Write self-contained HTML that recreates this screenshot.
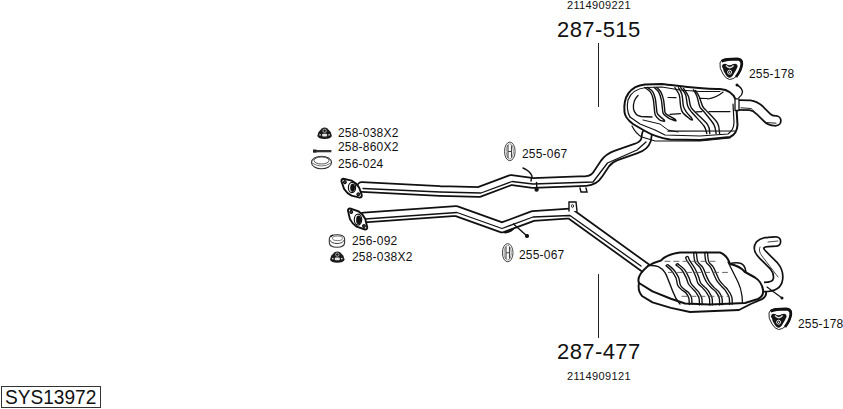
<!DOCTYPE html>
<html><head><meta charset="utf-8">
<style>
html,body{margin:0;padding:0;background:#fff;}
body{width:843px;height:409px;position:relative;overflow:hidden;font-family:"Liberation Sans",sans-serif;color:#111;}
.t{position:absolute;white-space:nowrap;line-height:1;}
.s12{font-size:12px;letter-spacing:0.2px;}
.s11{font-size:11px;letter-spacing:0.35px;}
.s22{font-size:22px;letter-spacing:0.4px;}
#box{position:absolute;left:1px;top:386px;width:98px;height:20px;border:1px solid #333;}
#box span{position:absolute;left:3px;top:0px;font-size:20px;line-height:1;transform:scaleX(0.955);transform-origin:0 0;}
svg{position:absolute;left:0;top:0;}
</style></head><body>
<svg width="843" height="409" viewBox="0 0 843 409">
<g fill="none" stroke-linecap="round" stroke-linejoin="round">
<!-- upper pipe -->
<path d="M362 187 L440 191 L479 192 L511 180 L533 183 L586 181 Q594 180.5 598 174 L605 163.5 Q609 158 616 155.5 L636 148.5 Q644 146 646 140 L647 134" stroke="#111" stroke-width="11.5"/>
<path d="M362 187 L440 191 L479 192 L511 180 L533 183 L586 181 Q594 180.5 598 174 L605 163.5 Q609 158 616 155.5 L636 148.5 Q644 146 646 140 L647 134" stroke="#fff" stroke-width="8"/>
<path d="M363 188.5 L440 192 L481 193 L512 181.5 L533 184 L593 182 L607.5 163 L637 150 L646 142" stroke="#111" stroke-width="1.3"/>
<!-- lower pipe -->
<path d="M364 217.5 L456 211 L502 227.5 L533 216 L570 213.5 L649 270.5" stroke="#111" stroke-width="11.5"/>
<path d="M364 217.5 L456 211 L502 227.5 L533 216 L570 213.5 L649 270.5" stroke="#fff" stroke-width="8"/>
<path d="M365 219 L457 212.5 L502 228.5 L533 217 L570 215.5 L641 266" stroke="#111" stroke-width="1.3"/>
</g>

<!-- upper muffler -->
<g fill="none" stroke="#111" stroke-linecap="round" stroke-linejoin="round">
<path d="M624.5 112 C623 97 630 86 645 84.5 L662 84 C680 86 700 89.5 720 89 Q732 90 736 100 L737.5 125 Q737 134 730 137 L700 140 L670 139.5 Q655 137 645 131 L633 124 Q625 118 624.5 112 Z" fill="#fff" stroke-width="2"/>
<path d="M630 117 Q626 110 628 100 Q632 89 646 87.5 L662 87 L680 90 L700 91.5 L720 91.5" stroke-width="1.2"/>
<path d="M630 117 L640 124 L655 130 L665 135 L700 136 L728 134 Q734 130 734 122 L733 104" stroke-width="1.2"/>
<path d="M632 126 Q636 134 642 137 L655 141 L700 141 L730 138" stroke-width="1.2"/>
<path d="M638 95.5 Q632.5 101 633.5 109 Q635 115.5 641 116.5 L652 117" stroke-width="1.3"/>
<path d="M643 120 L660 124 L668 130 L678 132" stroke-width="1"/>
<path d="M644.8 87.5 C645.7 88.2 648.9 90.1 650.3 91.9 C651.7 93.7 652.5 95.9 653.1 98.5 C653.8 101.1 653.8 104.5 654.2 107.3 C654.6 110.0 654.4 112.9 655.3 115.0 C656.2 117.1 658.4 119.0 659.7 120.0 C661.0 121.0 662.5 120.8 663.0 121.0 M647.6 87.5 C648.4 88.2 651.2 89.6 652.5 91.4 C653.8 93.2 654.6 95.8 655.3 98.5 C655.9 101.2 656.0 104.7 656.4 107.3 C656.8 109.9 656.4 112.0 657.5 113.9 C658.6 115.8 661.9 117.9 663.0 118.9 C664.1 119.9 664.0 119.8 664.2 120.0 M663.0 121.0 Q665.4 121.8 664.2 120.0 M654.2 87.5 C654.9 88.2 657.4 89.9 658.6 91.9 C659.8 93.9 660.7 96.8 661.3 99.6 C661.9 102.3 662.0 106.0 662.4 108.4 C662.8 110.8 662.4 112.2 663.5 113.9 C664.6 115.6 667.2 117.2 669.0 118.3 C670.8 119.4 673.6 120.1 674.5 120.5 M656.9 87.5 C657.5 88.2 659.7 89.9 660.8 91.9 C661.9 93.9 662.9 96.8 663.5 99.6 C664.1 102.3 664.2 106.1 664.6 108.4 C665.0 110.7 664.1 111.7 665.7 113.4 C667.4 115.2 672.9 117.8 674.5 118.9 C676.1 120.0 675.4 119.8 675.6 120.0 M674.5 120.5 Q676.8 121.3 675.6 120.0 M674.9 87.7 C675.6 88.9 678.2 91.7 679.2 94.8 C680.2 97.9 680.0 103.1 680.6 106.1 C681.2 109.0 681.2 110.4 682.7 112.5 C684.2 114.6 688.4 117.7 689.8 118.9 C691.2 120.1 690.8 119.6 691.0 119.7 M678.5 87.7 C679.1 88.9 681.2 91.7 682.0 94.8 C682.8 97.9 682.7 103.3 683.4 106.1 C684.1 108.9 685.0 109.9 686.3 111.8 C687.6 113.7 690.2 116.3 691.2 117.5 C692.2 118.7 691.9 118.8 692.0 119.0 M691.0 119.7 Q693.2 120.5 692.0 119.0 M680.6 87.7 C681.4 88.9 684.4 91.7 685.6 94.8 C686.8 97.9 686.6 103.1 687.7 106.1 C688.8 109.0 689.3 109.2 692.0 112.5 C694.7 115.8 701.5 122.5 704.0 126.0 C706.5 129.5 706.3 132.2 706.8 133.5 M683.4 88.4 C684.2 89.7 687.2 93.2 688.4 96.2 C689.6 99.2 689.5 103.6 690.5 106.1 C691.5 108.6 691.2 108.0 694.1 111.1 C697.0 114.2 705.0 120.9 707.6 124.6 C710.2 128.3 709.4 132.0 709.8 133.5 M693.4 89.8 C694.0 90.9 695.8 93.4 696.9 96.2 C698.0 99.0 698.6 104.2 699.8 106.8 C701.0 109.4 701.6 108.8 704.0 111.8 C706.4 114.8 711.9 121.0 713.9 124.6 C715.9 128.2 715.7 132.0 716.1 133.5 M695.5 90.5 C696.1 91.5 697.8 93.6 699.0 96.2 C700.2 98.8 701.4 103.7 702.6 106.1 C703.8 108.5 703.6 107.6 706.1 110.4 C708.6 113.2 715.2 119.2 717.5 123.1 C719.8 126.9 719.2 131.8 719.6 133.5" stroke-width="1.4"/>
<path d="M707.6 99 Q716 98 723.2 92" stroke-width="1.1"/>
<path d="M668 97.5 L676 97.7 M699.5 98.3 L707.5 98.5 M709 111.6 L730 111.6 M670 114.3 L680.5 113.6 M696 111.8 L702 111.6 M668 131.2 L735 131" stroke-width="1.2"/>
</g>
<!-- upper outlet pipe -->
<g fill="none" stroke-linecap="round" stroke-linejoin="round">
<path d="M738 105 L750 105.3 Q755 105.8 760 110.5 L767 117.5 Q770 120.7 775 120.8 L776 120.8" stroke="#111" stroke-width="11.5" stroke-linecap="butt"/>
<circle cx="776" cy="120.8" r="5.75" fill="#111"/>
<path d="M738 105 L750 105.3 Q755 105.8 760 110.5 L767 117.5 Q770 120.7 775 120.8 L776 120.8" stroke="#fff" stroke-width="8" stroke-linecap="butt"/>
<circle cx="776" cy="120.8" r="4" fill="#fff"/>
<path d="M741 107.8 L751 108.5 L766 122.5 L776 123.2" stroke="#222" stroke-width="1"/>
<path d="M735 98.8 L739 98.8 L739 110.5 L735 110.5 Z" fill="#fff" stroke="#111" stroke-width="1.3"/>
<path d="M737.4 85.2 Q742 88 742.5 92 Q742 95.5 739 97.5" stroke="#111" stroke-width="1.4"/>
<circle cx="737" cy="85" r="1.5" fill="#111"/>
</g>

<!-- lower muffler -->
<g fill="none" stroke="#111" stroke-linecap="round" stroke-linejoin="round">
<path d="M729 264 Q736 262 741 263.5 Q745 265 746 272" fill="#fff" stroke-width="1.5"/>
<path d="M648 266 Q655 262 661 260.5 Q667 254 680 252.5 L720 252.5 Q727 255 730 264 Q740 266 745 272 L755 277.5 Q762 282 763 290 Q764 296 758 299 L745 303 L710 304.5 L685 303.5 L670.9 298.7 L652.5 291.4 L639 283 Q636 276 648 266 Z" fill="#fff" stroke-width="2"/>
<path d="M639 283 Q637.5 291 642 296 L652.5 302.4 L670.9 307.9 L690 312 L739 310 L750.7 304 L762 299.2 Q767 296 766 292" stroke-width="1.9"/>
<path d="M648 265.6 Q654 265 658.3 266.7 Q662.5 268.8 665 272.6 Q666.5 275 667.3 277.5 L669.5 283 L672.8 291.5 Q675.5 299 680 304" stroke-width="1.4"/>
<path d="M666.1 265.7 C667.0 266.6 670.0 268.7 671.6 270.8 C673.2 272.9 675.0 275.7 676.0 278.1 C677.0 280.6 676.8 283.5 677.8 285.5 C678.8 287.5 680.5 288.6 681.9 289.9 C683.3 291.1 684.9 291.6 686.0 293.0 C687.1 294.4 688.2 296.1 688.8 298.0 C689.3 299.9 689.2 303.4 689.3 304.5 M668.8 265.4 C669.7 266.2 672.7 268.4 674.3 270.5 C676.0 272.6 677.7 275.4 678.7 277.8 C679.7 280.2 679.5 283.2 680.5 285.2 C681.5 287.2 683.2 288.3 684.6 289.6 C686.0 290.8 687.6 291.3 688.7 292.7 C689.9 294.1 691.0 295.8 691.5 297.7 C692.0 299.6 691.9 303.1 692.0 304.2 M666.1 265.7 Q667.5 263.6 668.8 265.4 M676.0 264.9 C677.0 265.8 680.2 267.8 681.9 270.0 C683.6 272.2 685.2 275.8 686.3 278.1 C687.4 280.4 687.4 282.2 688.5 284.0 C689.6 285.8 691.6 287.7 692.9 289.1 C694.1 290.5 695.0 291.0 696.0 292.5 C697.0 294.0 698.4 295.9 699.0 298.0 C699.6 300.1 699.3 303.8 699.4 305.0 M678.7 264.6 C679.7 265.4 682.9 267.5 684.6 269.7 C686.3 271.9 687.9 275.5 689.0 277.8 C690.1 280.1 690.1 281.9 691.2 283.7 C692.3 285.5 694.4 287.4 695.6 288.8 C696.9 290.2 697.7 290.7 698.7 292.2 C699.7 293.7 701.1 295.6 701.7 297.7 C702.3 299.8 702.0 303.5 702.1 304.7 M676.0 264.9 Q677.4 262.8 678.7 264.6 M685.7 257.5 C685.9 258.1 686.0 259.1 687.1 261.0 C688.2 262.9 690.7 266.0 692.1 268.6 C693.5 271.2 694.8 274.2 695.8 276.7 C696.8 279.1 696.8 281.4 698.0 283.3 C699.2 285.2 701.8 286.9 703.1 288.4 C704.5 289.8 705.1 290.4 706.1 292.0 C707.1 293.6 708.7 295.8 709.3 298.0 C709.9 300.2 709.6 303.8 709.7 305.0 M688.4 257.2 C688.6 257.8 688.7 258.8 689.8 260.7 C690.9 262.6 693.4 265.7 694.8 268.3 C696.2 270.9 697.5 273.9 698.5 276.4 C699.5 278.8 699.5 281.1 700.7 283.0 C701.9 284.9 704.5 286.6 705.8 288.1 C707.2 289.5 707.8 290.1 708.8 291.7 C709.8 293.3 711.4 295.5 712.0 297.7 C712.6 299.9 712.3 303.5 712.4 304.7 M685.7 257.5 Q687.1 255.4 688.4 257.2 M693.7 253.2 C693.9 254.7 694.0 259.6 695.1 262.0 C696.2 264.4 698.7 265.4 700.2 267.9 C701.7 270.3 702.8 274.3 703.9 276.7 C705.0 279.1 705.6 280.7 706.8 282.5 C708.0 284.3 709.7 286.1 711.2 287.7 C712.7 289.3 714.7 290.3 716.0 292.0 C717.3 293.7 718.6 295.8 719.2 298.0 C719.8 300.2 719.5 303.8 719.6 305.0 M696.4 252.9 C696.6 254.4 696.7 259.2 697.8 261.7 C698.9 264.1 701.4 265.1 702.9 267.6 C704.4 270.0 705.5 274.0 706.6 276.4 C707.7 278.8 708.3 280.4 709.5 282.2 C710.7 284.0 712.4 285.8 713.9 287.4 C715.4 289.0 717.4 290.0 718.7 291.7 C720.0 293.4 721.3 295.5 721.9 297.7 C722.5 299.9 722.2 303.5 722.3 304.7 M693.7 253.2 Q695.1 251.1 696.4 252.9 M704.8 253.2 C705.0 254.7 705.1 259.7 706.1 262.0 C707.1 264.3 709.1 264.9 710.5 267.1 C711.9 269.3 713.1 272.9 714.2 275.2 C715.3 277.5 715.9 279.3 717.1 281.1 C718.3 282.9 720.2 284.7 721.5 286.2 C722.8 287.7 723.8 288.2 725.0 290.0 C726.2 291.8 728.2 294.6 729.0 297.0 C729.8 299.4 729.4 303.2 729.5 304.5 M707.5 252.9 C707.7 254.4 707.9 259.4 708.8 261.7 C709.8 264.0 711.9 264.6 713.2 266.8 C714.6 269.0 715.8 272.6 716.9 274.9 C718.0 277.2 718.6 279.0 719.8 280.8 C721.0 282.6 722.9 284.4 724.2 285.9 C725.5 287.4 726.5 287.9 727.7 289.7 C729.0 291.5 731.0 294.3 731.7 296.7 C732.5 299.1 732.1 302.9 732.2 304.2 M704.8 253.2 Q706.1 251.1 707.5 252.9" stroke-width="1.35"/>
<path d="M728 262 Q733 272 738 282 Q741 288 742 296 L742.5 303" stroke-width="1.3"/>
<path d="M665 261.3 L716 261.3 M668.5 272.4 L728 272.4 M682 296.3 L728 296.3" stroke="#555" stroke-width="0.9" stroke-dasharray="5 4"/>
</g>
<!-- lower outlet pipe -->
<g fill="none" stroke-linecap="round" stroke-linejoin="round">
<path d="M764 287 Q777 287 778 279 Q779 272 774 266 L763 255 Q757 249 760 245 Q763 242 768 242 L776 241.5" stroke="#111" stroke-width="11" stroke-linecap="butt"/>
<circle cx="776" cy="241.5" r="5.5" fill="#111"/>
<path d="M764 287 Q777 287 778 279 Q779 272 774 266 L763 255 Q757 249 760 245 Q763 242 768 242 L776 241.5" stroke="#fff" stroke-width="7.6" stroke-linecap="butt"/>
<circle cx="776" cy="241.5" r="3.8" fill="#fff"/>
<path d="M760 247 Q758 251 762 256 L778 277 M768 242 L778 241" stroke="#333" stroke-width="0.9"/>
<path d="M767 287 L782 298" stroke="#111" stroke-width="1.2"/>
<circle cx="782" cy="298" r="1.5" fill="#111"/>
</g>
<!-- hanger wires on pipes -->
<g fill="none" stroke="#111" stroke-linecap="round" stroke-width="1.4">
<path d="M523 168 Q530 171 532 176 L531 181"/>
<path d="M536.5 182.5 L537 189.5"/>
<circle cx="536.6" cy="189.6" r="1.5" fill="#111"/>
<path d="M513.5 224 L527 236"/>
<path d="M505 232.5 Q510 232 513 229" stroke-width="2"/>
<circle cx="527" cy="236" r="1.4" fill="#111"/>
<path d="M580 188 L581 192 L587 192 L586 188"/>
<path d="M569 211 L569 202 L576 202 L577 211" fill="#fff"/>
<ellipse cx="572.5" cy="206" rx="1" ry="1.6" stroke-width="0.8"/>
</g>
<!-- upper flange -->
<g transform="translate(351.6 188.2) rotate(42)">
<path d="M-12.3 -1.6 Q-13.8 0 -12.3 1.6 L-5 5.6 Q0 7 5 5.6 L12.3 1.6 Q13.8 0 12.3 -1.6 L5 -5.6 Q0 -7 -5 -5.6 Z" fill="#fff" stroke="#111" stroke-width="1.9"/>
<circle cx="-9" cy="0" r="1.4" fill="#444" stroke="#111" stroke-width="1.1"/>
<circle cx="9" cy="0" r="1.4" fill="#444" stroke="#111" stroke-width="1.1"/>
</g>
<ellipse cx="352" cy="187.5" rx="3.6" ry="5.2" fill="#fff" stroke="#111" stroke-width="1.2"/>
<ellipse cx="352.6" cy="187.8" rx="2.4" ry="4.1" fill="#111"/>
<!-- lower flange -->
<g transform="translate(357.6 219) rotate(48)">
<path d="M-12.8 -1.5 Q-14.3 0 -12.8 1.5 L-5 5.8 Q0 7.2 5 5.8 L12.8 1.5 Q14.3 0 12.8 -1.5 L5 -5.8 Q0 -7.2 -5 -5.8 Z" fill="#fff" stroke="#111" stroke-width="1.9"/>
<circle cx="-9.5" cy="0" r="1.4" fill="#444" stroke="#111" stroke-width="1.1"/>
<circle cx="9.5" cy="0" r="1.4" fill="#444" stroke="#111" stroke-width="1.1"/>
</g>
<ellipse cx="358" cy="219.6" rx="3.7" ry="5.5" fill="#fff" stroke="#111" stroke-width="1.2"/>
<ellipse cx="358.6" cy="219.9" rx="2.5" ry="4.4" fill="#111"/>
<!-- icons -->
<g>
<!-- nut 1 -->
<g transform="translate(-12.7 -123.8)">
<path d="M330 259.8 L331.2 255.8 L334.5 252.2 Q337.3 250.6 340.1 252.2 L343.4 255.8 L344.6 259.8 Q343.5 262.7 337.3 262.7 Q331.1 262.7 330 259.8 Z" fill="#1a1a1a"/>
<circle cx="337.3" cy="254.6" r="1.7" fill="none" stroke="#bbb" stroke-width="0.9"/>
<rect x="334.8" y="257.6" width="5" height="2.6" rx="1" fill="#e6e6e6"/>
<circle cx="332.8" cy="258.6" r="0.9" fill="#ccc"/>
<circle cx="341.8" cy="258.6" r="0.9" fill="#ccc"/>
</g>
<!-- bolt -->
<rect x="313" y="149.5" width="3.5" height="3.2" fill="#222"/>
<rect x="316" y="150" width="15.4" height="2.3" fill="#333"/>
<!-- ring 256-024 -->
<ellipse cx="321.5" cy="162.5" rx="10" ry="6.3" fill="#fff" stroke="#333" stroke-width="1.1"/>
<ellipse cx="321.5" cy="160.5" rx="7.5" ry="3.5" fill="none" stroke="#555" stroke-width="1"/>
<path d="M312 163 Q321.5 169 331 163" fill="none" stroke="#666" stroke-width="0.9"/>
<!-- ring 256-092 -->
<path d="M329.3 239 Q329.3 234.8 337 234.8 Q344.6 234.8 344.6 239 L344.6 242.5 Q344.6 247.2 337 247.2 Q329.3 247.2 329.3 242.5 Z" fill="#fff" stroke="#333" stroke-width="1.1"/>
<path d="M329.5 239.5 Q331 243.5 337 243.5 Q343 243.5 344.4 239.5" fill="none" stroke="#444" stroke-width="1"/>
<ellipse cx="337.5" cy="238.3" rx="5" ry="2.3" fill="none" stroke="#666" stroke-width="0.9"/>
<path d="M330.5 237 Q331 235.5 333 235.3" fill="none" stroke="#111" stroke-width="1.6"/>
<!-- nut 2 -->
<path d="M330 259.8 L331.2 255.8 L334.5 252.2 Q337.3 250.6 340.1 252.2 L343.4 255.8 L344.6 259.8 Q343.5 262.7 337.3 262.7 Q331.1 262.7 330 259.8 Z" fill="#1a1a1a"/>
<circle cx="337.3" cy="254.6" r="1.7" fill="none" stroke="#bbb" stroke-width="0.9"/>
<rect x="334.8" y="257.6" width="5" height="2.6" rx="1" fill="#e6e6e6"/>
<circle cx="332.8" cy="258.6" r="0.9" fill="#ccc"/>
<circle cx="341.8" cy="258.6" r="0.9" fill="#ccc"/>
<!-- 255-067 a -->
<ellipse cx="509.8" cy="151.4" rx="5.3" ry="9.3" fill="#fff" stroke="#444" stroke-width="1"/>
<ellipse cx="509.8" cy="151.4" rx="3.6" ry="7.6" fill="none" stroke="#888" stroke-width="0.9"/>
<path d="M508 145 L508 158 M511.5 145.5 L511.5 157.5 M508 151.5 L511.5 151.5" stroke="#444" stroke-width="1.1" fill="none"/>
<!-- 255-067 b -->
<ellipse cx="507.7" cy="252.7" rx="5.3" ry="9.1" fill="#fff" stroke="#444" stroke-width="1"/>
<ellipse cx="507.7" cy="252.7" rx="3.6" ry="7.4" fill="none" stroke="#888" stroke-width="0.9"/>
<path d="M506 246.5 L506 259 M509.5 247 L509.5 258.5 M506 252.7 L509.5 252.7" stroke="#444" stroke-width="1.1" fill="none"/>
</g>
<g>
<path d="M720 63 Q721 59 727 58.5 L738 58.5 Q743 59 742.5 64 Q742 70 737 76 Q733 79.5 729.5 79.5 Q726 79 723 74 Q719 68 720 63 Z" fill="#fff" stroke="#222" stroke-width="1"/>
<path d="M721.5 61.3 Q726 59 737 59 Q742 59.3 741.8 64 Q741.3 70 736 77" fill="none" stroke="#111" stroke-width="2.8"/>
<path d="M723 68 Q723.5 64 726 64 Q729.5 66.5 733 64 Q736.5 64 737 67.5 Q736.5 70 734 73.5 Q731.5 77.8 729.5 77.8 Q727.5 77.8 725 73.5 Q723 70.5 723 68 Z" fill="#151515"/>
<circle cx="724.6" cy="66.3" r="2.5" fill="#151515"/>
<circle cx="735" cy="66.3" r="2.5" fill="#151515"/>
<path d="M726 65.5 Q729.8 70 733.6 65.5" fill="none" stroke="#e0e0e0" stroke-width="1.3"/>
<circle cx="729.6" cy="72.2" r="2" fill="none" stroke="#e8e8e8" stroke-width="1"/>
<circle cx="729.6" cy="72.3" r="0.7" fill="#fff"/>
</g>
<g transform="translate(49 250)">
<path d="M720 63 Q721 59 727 58.5 L738 58.5 Q743 59 742.5 64 Q742 70 737 76 Q733 79.5 729.5 79.5 Q726 79 723 74 Q719 68 720 63 Z" fill="#fff" stroke="#222" stroke-width="1"/>
<path d="M721.5 61.3 Q726 59 737 59 Q742 59.3 741.8 64 Q741.3 70 736 77" fill="none" stroke="#111" stroke-width="2.8"/>
<path d="M723 68 Q723.5 64 726 64 Q729.5 66.5 733 64 Q736.5 64 737 67.5 Q736.5 70 734 73.5 Q731.5 77.8 729.5 77.8 Q727.5 77.8 725 73.5 Q723 70.5 723 68 Z" fill="#151515"/>
<circle cx="724.6" cy="66.3" r="2.5" fill="#151515"/>
<circle cx="735" cy="66.3" r="2.5" fill="#151515"/>
<path d="M726 65.5 Q729.8 70 733.6 65.5" fill="none" stroke="#e0e0e0" stroke-width="1.3"/>
<circle cx="729.6" cy="72.2" r="2" fill="none" stroke="#e8e8e8" stroke-width="1"/>
<circle cx="729.6" cy="72.3" r="0.7" fill="#fff"/>
</g>
</svg>
<div class="t s11" style="left:567px;top:0px">2114909221</div>
<div class="t s22" style="left:557px;top:19px">287-515</div>
<div style="position:absolute;left:598px;top:42.5px;width:1.2px;height:64px;background:#222"></div>
<div class="t s12" style="left:338px;top:127px">258-038X2</div>
<div class="t s12" style="left:338px;top:141px">258-860X2</div>
<div class="t s12" style="left:338px;top:158px">256-024</div>
<div class="t s12" style="left:522px;top:148px">255-067</div>
<div class="t s12" style="left:352px;top:235px">256-092</div>
<div class="t s12" style="left:352px;top:251px">258-038X2</div>
<div class="t s12" style="left:519px;top:249px">255-067</div>
<div class="t s12" style="left:749px;top:68px">255-178</div>
<div class="t s12" style="left:798px;top:318px">255-178</div>
<div style="position:absolute;left:598px;top:274px;width:1.2px;height:64px;background:#222"></div>
<div class="t s22" style="left:557px;top:341px">287-477</div>
<div class="t s11" style="left:567px;top:371px">2114909121</div>
<div id="box"><span>SYS13972</span></div>
</body></html>
